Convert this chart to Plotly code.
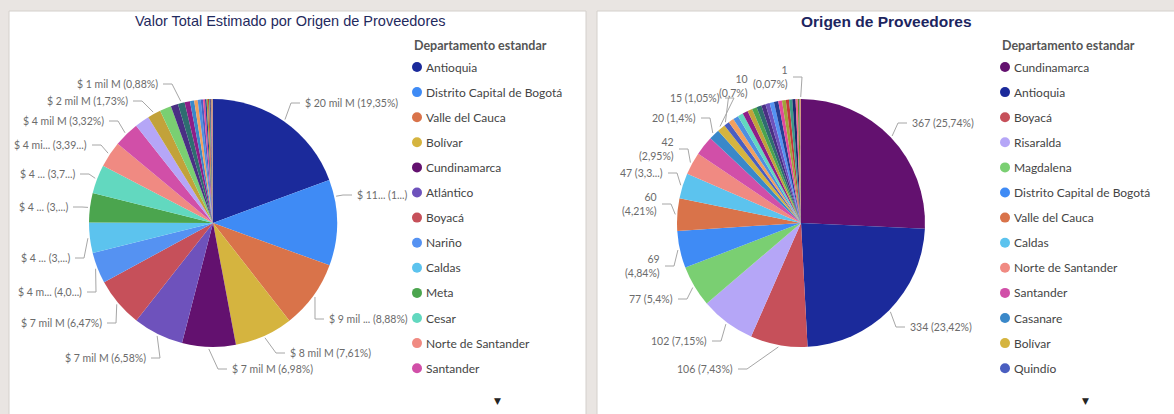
import math
import plotly.graph_objects as go

W, H = 1174, 414

# ---------------- DATA ----------------
# Left chart: Valor Total Estimado (share %, ordered as in the visual)
dep_valor = ["Antioquia", "Distrito Capital de Bogotá", "Valle del Cauca", "Bolívar", "Cundinamarca",
             "Atlántico", "Boyacá", "Nariño", "Caldas", "Meta", "Cesar", "Norte de Santander", "Santander",
             "Risaralda", "Tolima", "Magdalena", "Córdoba", "Huila", "Sucre", "Casanare", "Cauca",
             "La Guajira", "Quindío", "Chocó", "Arauca", "Putumayo", "Caquetá", "San Andrés",
             "Amazonas", "Guaviare", "Vichada", "Guainía", "Vaupés"]
valor_pct = [19.35, 11.2, 8.88, 7.61, 6.98, 6.58, 6.47, 4.03, 3.95, 3.85, 3.75, 3.39, 3.32,
             1.9, 1.73, 1.5, 0.95, 0.88, 0.7, 0.55, 0.45, 0.4, 0.3, 0.25, 0.2, 0.18, 0.15, 0.12,
             0.1, 0.1, 0.08, 0.06, 0.04]

# Right chart: Origen de Proveedores (count)
dep_count = ["Cundinamarca", "Antioquia", "Boyacá", "Risaralda", "Magdalena", "Distrito Capital de Bogotá",
             "Valle del Cauca", "Caldas", "Norte de Santander", "Santander", "Casanare", "Bolívar", "Quindío",
             "Cauca", "La Guajira", "Cesar", "Sucre", "Tolima", "Meta", "Huila", "Córdoba", "Atlántico",
             "Nariño", "Arauca", "Chocó", "Putumayo", "Caquetá", "San Andrés", "Amazonas", "Guaviare",
             "Vichada", "Guainía", "Vaupés"]
count_vals = [367, 334, 106, 102, 77, 69, 60, 47, 42, 36, 20, 15, 10,
              10, 10, 10, 10, 9, 9, 9, 8, 8, 8, 8, 7, 7, 6, 6, 6, 4, 3, 2, 1]

# Data label texts (as displayed, truncated by the report)
valor_label_deps = ["Antioquia", "Distrito Capital de Bogotá", "Valle del Cauca", "Bolívar", "Cundinamarca",
                    "Atlántico", "Boyacá", "Nariño", "Caldas", "Meta", "Cesar", "Norte de Santander",
                    "Santander", "Tolima", "Huila"]
valor_label_texts = ["$ 20 mil M (19,35%)", "$ 11... (1...)", "$ 9 mil ... (8,88%)", "$ 8 mil M (7,61%)",
                     "$ 7 mil M (6,98%)", "$ 7 mil M (6,58%)", "$ 7 mil M (6,47%)", "$ 4 m... (4,0...)",
                     "$ 4 ... (3,...)", "$ 4 ... (3,...)", "$ 4 ... (3,7...)", "$ 4 mi... (3,39...)",
                     "$ 4 mil M (3,32%)", "$ 2 mil M (1,73%)", "$ 1 mil M (0,88%)"]
count_label_deps = ["Cundinamarca", "Antioquia", "Boyacá", "Risaralda", "Magdalena",
                    "Distrito Capital de Bogotá", "Valle del Cauca", "Caldas", "Norte de Santander",
                    "Casanare", "Bolívar", "Quindío", "Vaupés"]
count_label_texts = ["367 (25,74%)", "334 (23,42%)", "106 (7,43%)", "102 (7,15%)", "77 (5,4%)",
                     "69<br>(4,84%)", "60<br>(4,21%)", "47 (3,3...)", "42<br>(2,95%)", "20 (1,4%)",
                     "15 (1,05%)", "10<br>(0,7%)", "1<br>(0,07%)"]

legend_title = "Departamento estandar"
titles = ["Valor Total Estimado por Origen de Proveedores", "Origen de Proveedores"]

# ---------------- STYLE / LAYOUT ----------------
colors = {
    "Antioquia": "#1B2A9B", "Distrito Capital de Bogotá": "#3F8BF5", "Valle del Cauca": "#D9734A",
    "Bolívar": "#D5B43F", "Cundinamarca": "#63116F", "Atlántico": "#6E52BC", "Boyacá": "#C6505A",
    "Nariño": "#5592F2", "Caldas": "#5CC3EE", "Meta": "#4BA54E", "Cesar": "#62D8BF",
    "Norte de Santander": "#F08A82", "Santander": "#D14FA8", "Risaralda": "#B5A6F7",
    "Tolima": "#C2A23A", "Magdalena": "#7ACF72", "Córdoba": "#4A2F84", "Huila": "#2E6D70",
    "Sucre": "#8E1E88", "Casanare": "#3A88C9", "Cauca": "#F2A05E", "La Guajira": "#4F8FE0",
    "Quindío": "#4A5EC0", "Chocó": "#E3499A", "Arauca": "#263E92", "Putumayo": "#A0A43A",
    "Caquetá": "#C43A3A", "San Andrés": "#3E9A86", "Amazonas": "#1E2870", "Guaviare": "#F26B8A",
    "Vichada": "#6B8E23", "Guainía": "#8A5AB0", "Vaupés": "#E08A2C",
}

# pie geometry (pixels)
L_CX, L_CY, R = 213, 223, 124
R_CX, R_CY = 801, 223

# label positions (pixels): x of text edge, y of text middle, side
valor_label_pos = [(303, 103, "r"), (355, 195, "r"), (327, 319, "r"), (288, 353, "r"), (230, 369, "r"),
                   (148, 358, "l"), (104, 323, "l"), (84, 292, "l"), (72, 258, "l"), (70, 207, "l"),
                   (77, 174, "l"), (89, 145, "l"), (106, 121, "l"), (130, 101, "l"), (160, 84, "l")]
valor_anchor_frac = [0.5, 0.2, 0.5, 0.5, 0.5, 0.5, 0.5, 0.5, 0.5, 0.5, 0.5, 0.5, 0.5, 0.5, 0.5]
count_label_pos = [(910, 123, "r"), (908, 327, "r"), (735, 369, "l"), (709, 341, "l"), (675, 299, "l"),
                   (662, 266, "l"), (659, 204, "l"), (665, 173, "l"), (676, 149, "l"), (698, 118, "l"),
                   (722, 98, "l"), (750, 86, "u"), (790, 77, "l")]
count_anchor_frac = [0.5] * len(count_label_deps)

LABEL_FONT = dict(family="Segoe UI, Lato, sans-serif", size=10.5, color="#6b6b6b")
LEGEND_FONT = dict(family="Segoe UI, Lato, sans-serif", size=12, color="#444444")
TITLE_FONT_FAMILY = "Arial, Liberation Sans, sans-serif"


def X(p):
    return p / W


def Y(p):
    return 1 - p / H


def spans(vals):
    tot = float(sum(vals))
    out, c = [], 0.0
    for v in vals:
        a0 = c / tot * 360
        c += v
        out.append((a0, c / tot * 360))
    return out


fig = go.Figure()

for deps, vals, cx, cy in [(dep_valor, valor_pct, L_CX, L_CY), (dep_count, count_vals, R_CX, R_CY)]:
    fig.add_trace(go.Pie(
        labels=deps, values=vals, sort=False, direction="clockwise", rotation=0,
        marker=dict(colors=[colors[d] for d in deps], line=dict(width=0)),
        textinfo="none", hoverinfo="label+value+percent", showlegend=False,
        domain=dict(x=[X(cx - R), X(cx + R)], y=[Y(cy + R), Y(cy - R)]),
    ))

shapes = []
annotations = []

# panel backgrounds
shapes.append(dict(type="rect", xref="paper", yref="paper", x0=X(9), x1=X(586), y0=Y(418), y1=Y(11),
                   fillcolor="white", line=dict(color="#d4d0cc", width=1), layer="below"))
shapes.append(dict(type="rect", xref="paper", yref="paper", x0=X(597), x1=X(1178), y0=Y(418), y1=Y(11),
                   fillcolor="white", line=dict(color="#d4d0cc", width=1), layer="below"))

# titles
annotations.append(dict(text=titles[0], x=X(290), y=Y(21), xref="paper", yref="paper", showarrow=False,
                        xanchor="center", yanchor="middle",
                        font=dict(family=TITLE_FONT_FAMILY, size=14.5, color="#1f2a5e")))
annotations.append(dict(text="<b>" + titles[1] + "</b>", x=X(886), y=Y(21), xref="paper", yref="paper",
                        showarrow=False, xanchor="center", yanchor="middle",
                        font=dict(family=TITLE_FONT_FAMILY, size=15.5, color="#1c2560")))


def add_labels(deps, vals, cx, cy, label_deps, texts, pos, fracs):
    sp = spans(vals)
    for d, t, (lx, ly, side), f in zip(label_deps, texts, pos, fracs):
        a0, a1 = sp[deps.index(d)]
        ang = math.radians(a0 + f * (a1 - a0))
        px_ = cx + (R + 2) * math.sin(ang)
        py_ = cy - (R + 2) * math.cos(ang)
        if side == "r":
            path = f"M {X(px_)},{Y(py_)} L {X(lx - 12)},{Y(ly)} L {X(lx - 3)},{Y(ly)}"
            xa = "left"
        elif side == "l":
            path = f"M {X(px_)},{Y(py_)} L {X(lx + 12)},{Y(ly)} L {X(lx + 3)},{Y(ly)}"
            xa = "right"
        else:
            path = f"M {X(px_)},{Y(py_)} L {X(px_ + 3)},{Y(ly + 12)}"
            xa = "right"
        shapes.append(dict(type="path", xref="paper", yref="paper", path=path,
                           line=dict(color="#a6a6a6", width=1)))
        annotations.append(dict(text=t, x=X(lx), y=Y(ly), xref="paper", yref="paper", showarrow=False,
                                xanchor=xa, yanchor="middle", align="right" if xa == "right" else "left",
                                font=LABEL_FONT))


add_labels(dep_valor, valor_pct, L_CX, L_CY, valor_label_deps, valor_label_texts, valor_label_pos,
           valor_anchor_frac)
add_labels(dep_count, count_vals, R_CX, R_CY, count_label_deps, count_label_texts, count_label_pos,
           count_anchor_frac)

# legends (first 13 entries visible, rest scrolled)
N_VISIBLE = 13
for deps, x0 in [(dep_valor, 412), (dep_count, 1000)]:
    annotations.append(dict(text="<b>" + legend_title + "</b>", x=X(x0), y=Y(45), xref="paper",
                            yref="paper", showarrow=False, xanchor="left", yanchor="middle",
                            font=dict(family="Segoe UI, Lato, sans-serif", size=12.5, color="#555555")))
    for i, d in enumerate(deps[:N_VISIBLE]):
        yc = 67 + 25.1 * i
        shapes.append(dict(type="circle", xref="paper", yref="paper", x0=X(x0), x1=X(x0 + 10),
                           y0=Y(yc + 5), y1=Y(yc - 5), fillcolor=colors[d], line=dict(width=0)))
        annotations.append(dict(text=d, x=X(x0 + 12), y=Y(yc), xref="paper", yref="paper",
                                showarrow=False, xanchor="left", yanchor="middle", font=LEGEND_FONT))
    annotations.append(dict(text="▼", x=X(x0 + 85), y=Y(401), xref="paper", yref="paper", showarrow=False,
                            xanchor="center", yanchor="middle",
                            font=dict(family="DejaVu Sans", size=9, color="#252423")))

fig.update_layout(
    width=W, height=H, margin=dict(l=0, r=0, t=0, b=0),
    paper_bgcolor="#e9e5e2", plot_bgcolor="#e9e5e2",
    shapes=shapes, annotations=annotations, showlegend=False,
)

fig.write_html(
    "out.html",
    config={"displayModeBar": False},
    post_script="document.body.style.margin='0';document.body.style.background='#e9e5e2';",
)
